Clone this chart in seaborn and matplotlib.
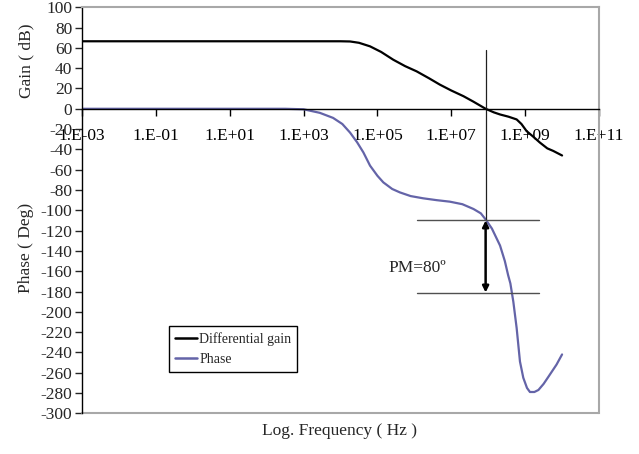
import matplotlib
matplotlib.use("Agg")
import matplotlib.pyplot as plt
import seaborn as sns
import numpy as np
import pandas as pd
from matplotlib.ticker import FixedLocator, FixedFormatter, NullLocator

# log10 of frequency (Hz) and the two responses
gain_logf = [-3, 0, 3, 4.0, 4.26, 4.5, 4.8, 5.1, 5.43, 5.75, 6.06, 6.4, 6.69, 7.0,
             7.33, 7.6, 7.93, 8.15, 8.32, 8.55, 8.77, 8.9, 9.04, 9.22, 9.4, 9.6, 9.76, 10.0]
gain_db = [66.5, 66.5, 66.5, 66.5, 66.3, 65, 61.5, 56, 48.3, 42, 36.9, 30, 23.8, 18,
           12.4, 7, 0, -3.5, -5.6, -7.8, -10.5, -15, -22, -27.5, -33.3, -39, -41.5, -46]

phase_logf = [-3, 0, 2.5, 3.0, 3.44, 3.8, 4.05, 4.26, 4.45, 4.62, 4.8, 5.0, 5.16, 5.4,
              5.61, 5.9, 6.24, 6.6, 6.96, 7.3, 7.6, 7.8, 7.93, 8.1, 8.32, 8.45, 8.54,
              8.6, 8.68, 8.77, 8.86, 8.95, 9.05, 9.13, 9.25, 9.36, 9.5, 9.63, 9.85, 10.0]
phase_deg = [0, 0, 0, -0.5, -4, -9, -15, -23.5, -33, -43, -56, -66, -72.5, -79,
             -82.4, -86, -88.2, -90, -91.5, -94, -98.7, -103, -109, -118, -134.7, -150, -164,
             -172, -190, -216, -249, -265, -275, -279, -279, -277, -271, -264, -252, -242]

x_tick_exp = [-3, -1, 1, 3, 5, 7, 9, 11]
x_tick_labels = ["1.E-03", "1.E-01", "1.E+01", "1.E+03", "1.E+05", "1.E+07", "1.E+09", "1.E+11"]
y_ticks = list(range(-300, 101, 20))

# phase margin construction
cross_logf = 7.93
vline_top = 57.5
phase_at_cross = -110
phase_ref = -181
pm_line_logf = (6.08, 9.38)
pm_text = "PM=80º"
pm_text_pos = (5.29, -157)

df = pd.concat([
    pd.DataFrame({"f": 10.0 ** np.array(gain_logf), "v": gain_db, "s": "Differential gain"}),
    pd.DataFrame({"f": 10.0 ** np.array(phase_logf), "v": phase_deg, "s": "Phase"}),
])

sns.set_style("white")
plt.rcParams["font.family"] = ["Liberation Serif", "DejaVu Serif"]

fig = plt.figure(figsize=(6.39, 4.54), dpi=100)
ax = fig.add_axes([0.1283, 0.0896, 0.8091, 0.8944])

colors = {"Differential gain": "black", "Phase": "#6464A8"}
sns.lineplot(data=df, x="f", y="v", hue="s", palette=colors, sort=False,
             estimator=None, lw=1.6, ax=ax, legend=False)

ax.set_xscale("log")
ax.set_xlim(1e-3, 1e11)
ax.set_ylim(-300, 100)
ax.xaxis.set_major_locator(FixedLocator([10.0 ** e for e in x_tick_exp]))
ax.xaxis.set_major_formatter(FixedFormatter(x_tick_labels))
ax.xaxis.set_minor_locator(NullLocator())
ax.set_yticks(y_ticks)
ax.set_yticklabels([str(t) for t in y_ticks])
ax.set_xlabel("")
ax.set_ylabel("")

ax.spines["bottom"].set_position(("data", 0))
for s in ["left", "bottom"]:
    ax.spines[s].set_color("black")
    ax.spines[s].set_linewidth(1.0)
for s in ["top", "right"]:
    ax.spines[s].set_color("#A8A8A8")
    ax.spines[s].set_linewidth(1.5)
ax.axhline(-300, color="#A8A8A8", lw=1.5, clip_on=False)

ax.tick_params(axis="x", direction="out", length=5, width=1, pad=9, labelsize=12.5,
               bottom=True, colors="black")
ax.tick_params(axis="y", direction="out", length=5, width=1, pad=2, labelsize=12.5,
               left=True)

# phase margin marks
xc = 10.0 ** cross_logf
ax.plot([xc, xc], [vline_top, phase_at_cross], color="#202020", lw=0.9)
for yv in (phase_at_cross, phase_ref):
    ax.plot([10.0 ** pm_line_logf[0], 10.0 ** pm_line_logf[1]], [yv, yv], color="#505050", lw=1.0)
ax.annotate("", xy=(xc, phase_at_cross), xytext=(xc, phase_ref),
            arrowprops=dict(arrowstyle="<|-|>", color="black", lw=1.8,
                            mutation_scale=9, shrinkA=0, shrinkB=0))
ax.text(10.0 ** pm_text_pos[0], pm_text_pos[1], pm_text, fontsize=12.5,
        ha="left", va="center")

handles = [plt.Line2D([], [], color=colors[k], lw=1.8) for k in colors]
leg = ax.legend(handles, list(colors), loc="lower left", bbox_to_anchor=(0.169, 0.102),
                fontsize=10, frameon=True, fancybox=False, framealpha=1,
                handlelength=1.6, handletextpad=0.15, borderpad=0.4, labelspacing=0.55,
                borderaxespad=0)
leg.get_frame().set_edgecolor("black")
leg.get_frame().set_linewidth(1.0)

fig.text(0.041, 0.866, "Gain ( dB)", rotation=90, ha="center", va="center", fontsize=12.5)
fig.text(0.041, 0.454, "Phase ( Deg)", rotation=90, ha="center", va="center", fontsize=12.5)
fig.text(0.532, 0.05, "Log. Frequency ( Hz )", ha="center", va="center", fontsize=12.5)

fig.savefig("out.png", dpi=100, facecolor="white")
